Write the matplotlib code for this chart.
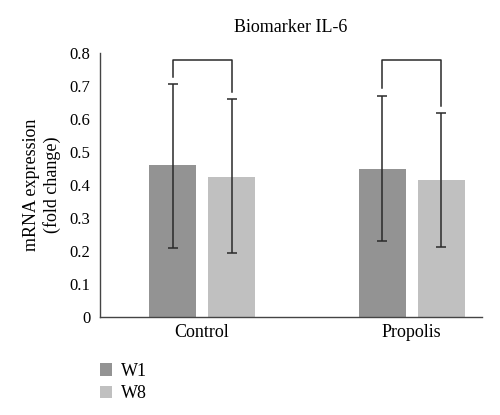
import numpy as np
import matplotlib.pyplot as plt

# data
groups = ['Control', 'Propolis']
series = ['W1', 'W8']
means_w1 = [0.462, 0.448]
means_w8 = [0.425, 0.414]
err_hi_w1 = [0.706, 0.671]
err_lo_w1 = [0.210, 0.232]
err_hi_w8 = [0.660, 0.617]
err_lo_w8 = [0.195, 0.213]
bracket_top = 0.78

colors = ['#939393', '#c0c0c0']
plt.rcParams['font.family'] = ['Liberation Serif', 'DejaVu Serif']

fig = plt.figure(figsize=(5, 4.15), dpi=100)
ax = fig.add_axes([0.2, 0.236, 0.764, 0.636])

x = np.arange(len(groups))
w = 0.224
off = 0.141

means = [means_w1, means_w8]
his = [err_hi_w1, err_hi_w8]
los = [err_lo_w1, err_lo_w8]
for k, s in enumerate(series):
    xs = x + (-off if k == 0 else off)
    m = np.array(means[k])
    yerr = [m - np.array(los[k]), np.array(his[k]) - m]
    ax.bar(xs, m, width=w, color=colors[k], label=s, zorder=1)
    ax.errorbar(xs, m, yerr=yerr, fmt='none', ecolor='#2a2a2a',
                elinewidth=1.1, capsize=3.8, capthick=1.1, zorder=2)

# brackets between W1 and W8 of each group
gap = 0.022
for i in range(len(groups)):
    x1, x2 = x[i] - off, x[i] + off
    ax.plot([x1, x1, x2, x2],
            [err_hi_w1[i] + gap, bracket_top, bracket_top, err_hi_w8[i] + gap],
            color='#2a2a2a', lw=1.1)

ax.set_xlim(-0.487, 1.336)
ax.set_ylim(0, 0.8)
ax.set_yticks(np.arange(0, 0.81, 0.1))
ax.set_yticklabels(['0'] + ['%.1f' % v for v in np.arange(0.1, 0.81, 0.1)])
ax.set_xticks(x)
ax.set_xticklabels(groups, fontsize=13)
ax.tick_params(axis='y', length=0, labelsize=12, pad=7)
ax.tick_params(axis='x', length=0, pad=5)
for sp in ['top', 'right']:
    ax.spines[sp].set_visible(False)
for sp in ['left', 'bottom']:
    ax.spines[sp].set_color('#444444')
    ax.spines[sp].set_linewidth(1.0)

ax.set_ylabel('mRNA expression\n(fold change)', fontsize=13, labelpad=6)
ax.set_title('Biomarker IL-6', fontsize=13, pad=15)

fig.legend(loc='upper left', bbox_to_anchor=(0.167, 0.165), frameon=False,
           fontsize=13, handlelength=0.7, handleheight=0.7,
           handletextpad=0.5, labelspacing=0.3)

fig.savefig('out.png', dpi=100)
